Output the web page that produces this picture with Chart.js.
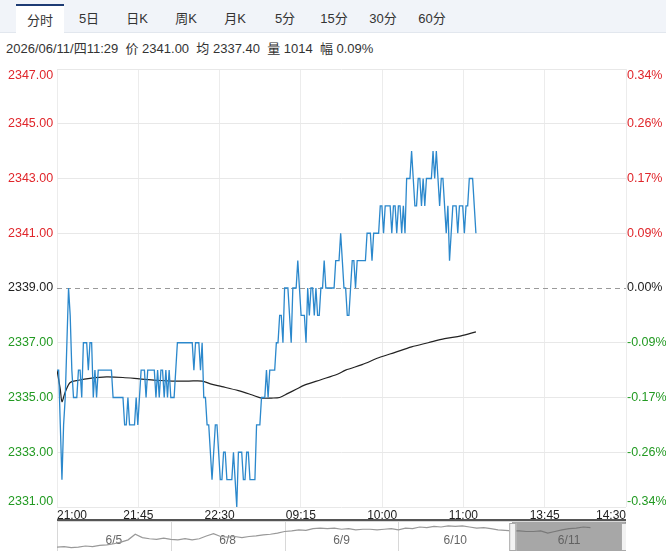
<!DOCTYPE html>
<html>
<head>
<meta charset="utf-8">
<script src="https://cdn.jsdelivr.net/npm/chart.js@4.4.1/dist/chart.umd.min.js"></script>
<style>
body { margin:0; width:666px; height:551px; overflow:hidden; background:#fff; position:relative;
  font-family: "Liberation Sans", Arial, "Noto Sans CJK SC", sans-serif; }
#tabs { position:absolute; left:0; top:0; width:666px; height:32px; background:#f1f4f9; border-bottom:1px solid #e2e7ee; }
.tab { position:absolute; top:0; width:48px; height:32px; line-height:38px; font-size:13px; color:#333; text-align:center; }
.tab.on { background:#fff; border-top:2px solid #1d3b74; top:4px; height:27px; line-height:29px; }
#info { position:absolute; left:6px; top:38px; font-size:13px; color:#333; white-space:pre; }
#main { position:absolute; left:0; top:58px; }
#nav { position:absolute; left:57px; top:519px; }
</style>
</head>
<body>
<div id="tabs"></div>
<div id="info">2026/06/11/四11:29  价 2341.00  均 2337.40  量 1014  幅 0.09%</div>
<canvas id="main" width="666" height="463"></canvas>
<canvas id="nav" width="569" height="32"></canvas>
<script>
var tabNames = ['分时', '5日', '日K', '周K', '月K', '5分', '15分', '30分', '60分'];
var tabCenters = [40, 89, 137, 186, 235, 285, 334, 383, 432];

// minute by minute price, 21:00 -> 11:29
var price = [
  2336, 2336, 2334, 2332, 2334, 2335, 2337, 2339, 2338, 2336,
  2335, 2335, 2335, 2336, 2336, 2335, 2337, 2337, 2337, 2336,
  2337, 2337, 2335, 2336, 2335, 2336, 2336, 2336, 2336, 2336,
  2336, 2336, 2336, 2336, 2335, 2335, 2335, 2335, 2335, 2335,
  2335, 2334, 2334, 2335, 2334, 2334, 2334, 2334, 2335, 2334,
  2335, 2336, 2336, 2336, 2335, 2336, 2336, 2336, 2336, 2336,
  2335, 2336, 2335, 2336, 2336, 2335, 2336, 2335, 2336, 2335,
  2335, 2335, 2336, 2337, 2337, 2337, 2337, 2337, 2337, 2337,
  2337, 2337, 2337, 2336, 2337, 2337, 2337, 2336, 2337, 2335,
  2335, 2334, 2334, 2333, 2332, 2333, 2334, 2334, 2333, 2332,
  2332, 2333, 2333, 2332, 2332, 2332, 2332, 2333, 2332, 2331,
  2333, 2333, 2333, 2332, 2332, 2333, 2333, 2332, 2332, 2332,
  2332, 2334, 2334, 2334, 2335, 2335, 2335, 2336, 2335, 2336,
  2336, 2336, 2336, 2337, 2337, 2338, 2338, 2337, 2339, 2339,
  2339, 2338, 2337, 2339, 2339, 2339, 2340, 2339, 2338, 2338,
  2338, 2337, 2339, 2338, 2339, 2339, 2338, 2339, 2338, 2338,
  2339, 2339, 2340, 2339, 2339, 2339, 2339, 2339, 2339, 2340,
  2340, 2340, 2341, 2340, 2339, 2339, 2338, 2338, 2339, 2340,
  2340, 2339, 2340, 2340, 2340, 2340, 2340, 2340, 2341, 2341,
  2341, 2340, 2341, 2341, 2341, 2341, 2342, 2342, 2341, 2342,
  2342, 2342, 2342, 2341, 2342, 2342, 2341, 2342, 2342, 2341,
  2342, 2341, 2343, 2343, 2343, 2344, 2343, 2342, 2342, 2343,
  2343, 2342, 2343, 2342, 2343, 2343, 2343, 2343, 2344, 2343,
  2344, 2343, 2342, 2343, 2343, 2342, 2341, 2342, 2340, 2341,
  2342, 2342, 2342, 2341, 2342, 2342, 2342, 2341, 2342, 2342,
  2343, 2343, 2343, 2342, 2341
];

// average price line, read at these minutes
var avgMinute = [0, 2, 3, 5, 8, 13, 20, 30, 40, 50, 60, 70, 80, 88, 93, 100, 110, 118, 124, 130,
  135, 140, 145, 150, 160, 170, 175, 185, 195, 205, 215, 225, 235, 245, 254];
var avgPrice = [2336.0, 2335.3, 2334.85, 2335.2, 2335.55, 2335.63, 2335.7, 2335.75, 2335.73, 2335.68,
  2335.63, 2335.6, 2335.6, 2335.6, 2335.5, 2335.4, 2335.25, 2335.1, 2334.98, 2334.98,
  2335.0, 2335.15, 2335.3, 2335.45, 2335.65, 2335.85, 2336.0, 2336.2, 2336.45, 2336.65,
  2336.85, 2337.0, 2337.15, 2337.25, 2337.4];

var prevClose = 2339;
var sessionMinutes = 345;
var xTickLabels = ['21:00', '21:45', '22:30', '09:15', '10:00', '11:00', '13:45', '14:30'];
var leftTicks = ['2331.00', '2333.00', '2335.00', '2337.00', '2339.00', '2341.00', '2343.00', '2345.00', '2347.00'];
var rightTicks = ['-0.34%', '-0.26%', '-0.17%', '-0.09%', '0.00%', '0.09%', '0.17%', '0.26%', '0.34%'];

// overview navigator, 16 samples per day
var navDays = ['6/5', '6/8', '6/9', '6/10', '6/11'];
var navPrice = [
  2307, 2308, 2306, 2307, 2309, 2308, 2310, 2311, 2313, 2316, 2320, 2330, 2324, 2322, 2321, 2323,
  2321, 2320, 2322, 2320, 2322, 2327, 2331, 2326, 2325, 2326, 2324, 2326, 2327, 2329, 2330, 2332,
  2335, 2336, 2338, 2337, 2340, 2341, 2340, 2341, 2339, 2340, 2338, 2339, 2339, 2338, 2339, 2340,
  2338, 2341, 2340, 2343, 2342, 2344, 2343, 2345, 2344, 2345, 2343, 2341, 2342, 2340, 2338, 2337,
  2336, 2336, 2335, 2335, 2336, 2332, 2335, 2338, 2340, 2341, 2343, 2342
];

var RED = '#e0262b', GREEN = '#229a22', FONT = '"Liberation Sans", Arial, sans-serif';

var tabs = document.getElementById('tabs');
tabNames.forEach(function (t, i) {
    var d = document.createElement('div');
    d.className = 'tab' + (i === 0 ? ' on' : '');
    d.style.left = (tabCenters[i] - 24) + 'px';
    d.textContent = t;
    tabs.appendChild(d);
});

function tickColor(v) {
    if (v > prevClose) return RED;
    if (v < prevClose) return GREEN;
    return '#222';
}

var yLabels = {
    id: 'yLabels',
    afterDraw: function (chart) {
        var ctx = chart.ctx;
        var y = chart.scales.y;
        var n = y.ticks.length;
        ctx.save();
        ctx.font = '12.5px ' + FONT;
        y.ticks.forEach(function (t, i) {
            var py = y.getPixelForValue(t.value);
            ctx.textBaseline = i === 0 ? 'bottom' : (i === n - 1 ? 'top' : 'middle');
            ctx.fillStyle = tickColor(t.value);
            ctx.textAlign = 'left';
            ctx.fillText(leftTicks[i], 8, i === 0 ? py + 1 : py);
            ctx.fillText(rightTicks[i], chart.chartArea.right + 1, i === 0 ? py + 1 : py);
        });
        ctx.restore();
    }
};

new Chart(document.getElementById('main'), {
    type: 'line',
    data: {
        datasets: [{
            data: price.map(function (v, i) { return {x: i, y: v}; }),
            borderColor: '#2b88cc',
            borderWidth: 1.3,
            pointRadius: 0
        }, {
            data: avgPrice.map(function (v, i) { return {x: avgMinute[i], y: v}; }),
            borderColor: '#222',
            borderWidth: 1.2,
            pointRadius: 0,
            tension: 0.3
        }]
    },
    options: {
        responsive: false,
        animation: false,
        events: [],
        layout: {padding: {top: 11}},
        plugins: {legend: {display: false}, tooltip: {enabled: false}},
        scales: {
            x: {
                type: 'linear',
                min: 0,
                max: sessionMinutes,
                afterBuildTicks: function (scale) {
                    scale.ticks = xTickLabels.map(function (t, i) {
                        return {value: i * sessionMinutes / (xTickLabels.length - 1)};
                    });
                },
                afterFit: function (scale) { scale.height = 14; },
                grid: {color: '#ececec', drawTicks: false},
                border: {display: false},
                ticks: {
                    padding: 1,
                    align: 'inner',
                    maxRotation: 0,
                    autoSkip: false,
                    color: '#222',
                    font: {size: 12, family: FONT},
                    callback: function (v, i) { return xTickLabels[i]; }
                }
            },
            y: {
                min: 2331,
                max: 2347,
                afterFit: function (scale) { scale.width = 57; },
                grid: {
                    drawTicks: false,
                    color: function (c) { return c.tick && c.tick.value === prevClose ? '#9a9a9a' : '#e8e8e8'; }
                },
                border: {
                    display: false,
                    dash: function (c) { return c.tick && c.tick.value === prevClose ? [5, 4] : []; }
                },
                ticks: {stepSize: 2, display: false}
            },
            y1: {
                position: 'right',
                min: 2331,
                max: 2347,
                afterFit: function (scale) { scale.width = 40; },
                grid: {drawOnChartArea: false, drawTicks: false},
                border: {display: false},
                ticks: {stepSize: 2, display: false}
            }
        }
    },
    plugins: [yLabels]
});

var navDecor = {
    id: 'navDecor',
    beforeDatasetsDraw: function (chart) {
        var ctx = chart.ctx, x = chart.scales.x, a = chart.chartArea;
        ctx.save();
        ctx.fillStyle = '#555';
        ctx.fillRect(0, 0, chart.width, 2);
        ctx.strokeStyle = '#d8d8d8';
        ctx.lineWidth = 1;
        ctx.strokeRect(0.5, 2.5, chart.width - 1, chart.height - 2);
        navDays.forEach(function (d, i) {
            var px = Math.round(x.getPixelForValue(i)) + 0.5;
            if (i > 0) {
                ctx.beginPath();
                ctx.moveTo(px, a.top);
                ctx.lineTo(px, a.bottom);
                ctx.stroke();
            }
            ctx.fillStyle = '#666';
            ctx.font = '12px ' + FONT;
            ctx.textAlign = 'center';
            ctx.textBaseline = 'middle';
            ctx.fillText(d, x.getPixelForValue(i + 0.5), 22);
        });
        ctx.restore();
    },
    afterDatasetsDraw: function (chart) {
        var ctx = chart.ctx, x = chart.scales.x, a = chart.chartArea;
        var x0 = x.getPixelForValue(navDays.length - 1), x1 = x.getPixelForValue(navDays.length);
        ctx.save();
        ctx.fillStyle = 'rgba(95,95,95,0.55)';
        ctx.fillRect(x0, a.top, x1 - x0, a.bottom - a.top);
        ctx.fillStyle = '#f2f2f2';
        ctx.strokeStyle = '#aaa';
        [x0 - 3, x1 - 5].forEach(function (hx) {
            ctx.fillRect(hx, a.top + 1, 7, a.bottom - a.top - 1);
            ctx.strokeRect(hx + 0.5, a.top + 1.5, 6, a.bottom - a.top - 2);
        });
        ctx.restore();
    }
};

new Chart(document.getElementById('nav'), {
    type: 'line',
    data: {
        datasets: [{
            data: navPrice.map(function (v, i) { return {x: i / 16, y: v}; }),
            borderColor: '#999',
            borderWidth: 1.2,
            pointRadius: 0
        }]
    },
    options: {
        responsive: false,
        animation: false,
        events: [],
        layout: {padding: {top: 3}},
        plugins: {legend: {display: false}, tooltip: {enabled: false}},
        scales: {
            x: {type: 'linear', min: 0, max: navDays.length, display: false},
            y: {min: 2300, max: 2352, display: false}
        }
    },
    plugins: [navDecor]
});
</script>
</body>
</html>
